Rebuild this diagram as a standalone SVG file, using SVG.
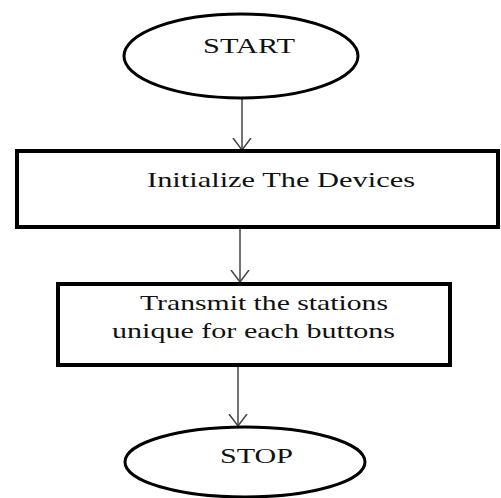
<svg xmlns="http://www.w3.org/2000/svg" width="501" height="498" viewBox="0 0 501 498">
<defs>
<marker id="arr" viewBox="0 0 12 20" refX="12" refY="10" markerWidth="12" markerHeight="20" markerUnits="userSpaceOnUse" orient="auto">
<path d="M0,1 L12,10 L0,19" fill="none" stroke="#444" stroke-width="1.5"/>
</marker>
<style>
.term{fill:#fff;stroke:#000;stroke-width:3}
.box{fill:#fff;stroke:#000;stroke-width:4}
.lbl{font-size:21px;fill:#111}
.conn{stroke:#444;stroke-width:1.5;fill:none;marker-end:url(#arr)}
</style>
</defs>
<rect width="501" height="498" fill="#fff"/>
<g id="connectors">
<line class="conn" x1="242" y1="99" x2="242" y2="150"/>
<line class="conn" x1="240" y1="229" x2="240" y2="282"/>
<line class="conn" x1="238" y1="367" x2="238" y2="426"/>
</g>
<g font-family="'Liberation Serif', 'Times New Roman', 'DejaVu Serif', serif">
<g id="start">
<ellipse class="term" cx="241" cy="56" rx="117" ry="42"/>
<text class="lbl" x="203" y="53" textLength="92" lengthAdjust="spacingAndGlyphs">START</text>
</g>
<g id="init">
<rect class="box" x="17" y="151" width="481" height="76"/>
<text class="lbl" x="147" y="187" textLength="268" lengthAdjust="spacingAndGlyphs">Initialize The Devices</text>
</g>
<g id="transmit">
<rect class="box" x="58" y="284" width="392" height="81"/>
<text class="lbl" x="140" y="310" textLength="248" lengthAdjust="spacingAndGlyphs">Transmit the stations</text>
<text class="lbl" x="112" y="338" textLength="283" lengthAdjust="spacingAndGlyphs">unique for each buttons</text>
</g>
<g id="stop">
<ellipse class="term" cx="245" cy="462" rx="120" ry="35"/>
<text class="lbl" x="220" y="463" textLength="73" lengthAdjust="spacingAndGlyphs">STOP</text>
</g>
</g>
</svg>
